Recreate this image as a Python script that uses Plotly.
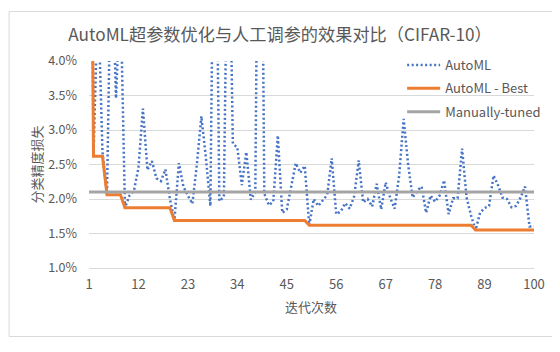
import plotly.graph_objects as go

iterations = list(range(1, 101))

automl = [
    12.0, 2.62, 5.0, 2.68, 2.06, 6.0, 3.46, 5.0, 1.875, 2.05,
    2.12, 2.45, 3.31, 2.42, 2.55, 2.30, 2.26, 2.43, 2.00, 1.69,
    2.52, 2.18, 2.05, 1.93, 2.50, 3.20, 2.60, 1.90, 8.0, 1.97,
    2.03, 7.0, 2.80, 2.75, 2.20, 2.68, 1.99, 2.10, 10.0, 2.08,
    1.91, 1.96, 2.92, 1.80, 1.85, 2.18, 2.52, 2.38, 2.48, 1.62,
    2.00, 1.90, 1.98, 2.06, 2.59, 1.78, 1.82, 1.94, 1.86, 2.04,
    2.56, 1.95, 2.00, 1.89, 2.22, 1.85, 2.24, 2.02, 1.86, 2.34,
    3.16, 2.50, 2.02, 2.12, 2.18, 1.80, 2.05, 1.96, 2.05, 2.27,
    1.78, 2.01, 2.01, 2.73, 2.02, 1.76, 1.55, 1.80, 1.87, 1.90,
    2.34, 2.20, 2.02, 2.00, 1.88, 1.90, 2.02, 2.18, 1.60, 1.60,
]

automl_best = [
    12.0, 2.62, 2.62, 2.62, 2.06, 2.06, 2.06, 2.06, 1.875, 1.875,
    1.875, 1.875, 1.875, 1.875, 1.875, 1.875, 1.875, 1.875, 1.875, 1.69,
    1.69, 1.69, 1.69, 1.69, 1.69, 1.69, 1.69, 1.69, 1.69, 1.69,
    1.69, 1.69, 1.69, 1.69, 1.69, 1.69, 1.69, 1.69, 1.69, 1.69,
    1.69, 1.69, 1.69, 1.69, 1.69, 1.69, 1.69, 1.69, 1.69, 1.62,
    1.62, 1.62, 1.62, 1.62, 1.62, 1.62, 1.62, 1.62, 1.62, 1.62,
    1.62, 1.62, 1.62, 1.62, 1.62, 1.62, 1.62, 1.62, 1.62, 1.62,
    1.62, 1.62, 1.62, 1.62, 1.62, 1.62, 1.62, 1.62, 1.62, 1.62,
    1.62, 1.62, 1.62, 1.62, 1.62, 1.62, 1.55, 1.55, 1.55, 1.55,
    1.55, 1.55, 1.55, 1.55, 1.55, 1.55, 1.55, 1.55, 1.55, 1.55,
]

manual = [
    2.1, 2.1, 2.1, 2.1, 2.1, 2.1, 2.1, 2.1, 2.1, 2.1,
    2.1, 2.1, 2.1, 2.1, 2.1, 2.1, 2.1, 2.1, 2.1, 2.1,
    2.1, 2.1, 2.1, 2.1, 2.1, 2.1, 2.1, 2.1, 2.1, 2.1,
    2.1, 2.1, 2.1, 2.1, 2.1, 2.1, 2.1, 2.1, 2.1, 2.1,
    2.1, 2.1, 2.1, 2.1, 2.1, 2.1, 2.1, 2.1, 2.1, 2.1,
    2.1, 2.1, 2.1, 2.1, 2.1, 2.1, 2.1, 2.1, 2.1, 2.1,
    2.1, 2.1, 2.1, 2.1, 2.1, 2.1, 2.1, 2.1, 2.1, 2.1,
    2.1, 2.1, 2.1, 2.1, 2.1, 2.1, 2.1, 2.1, 2.1, 2.1,
    2.1, 2.1, 2.1, 2.1, 2.1, 2.1, 2.1, 2.1, 2.1, 2.1,
    2.1, 2.1, 2.1, 2.1, 2.1, 2.1, 2.1, 2.1, 2.1, 2.1,
]

x_tickvals = [1, 12, 23, 34, 45, 56, 67, 78, 89, 100]
y_tickvals = [1.0, 1.5, 2.0, 2.5, 3.0, 3.5, 4.0]
y_ticktext = ["1.0%", "1.5%", "2.0%", "2.5%", "3.0%", "3.5%", "4.0%"]

FONT = "Noto Sans CJK SC"
TXT = "#595959"

fig = go.Figure()
fig.add_trace(go.Scatter(x=iterations, y=automl, mode="lines", name="AutoML",
                         legendgroup="a",
                         line=dict(color="#4472C4", width=2.5, dash="2px,2.5px")))
fig.add_trace(go.Scatter(x=iterations, y=automl_best, mode="lines", name="AutoML - Best",
                         legendgroup="b",
                         line=dict(color="#ED7D31", width=3)))
fig.add_trace(go.Scatter(x=iterations, y=manual, mode="lines", name="Manually-tuned",
                         legendgroup="c",
                         line=dict(color="#A5A5A5", width=3)))

# page has an 8px body margin: figure is drawn 8px in from the top-left
OFF = 8
W, H = 552, 344
L, R, T, B = 88.5 - OFF, 560 - 534, 61 - OFF, 352 - 268
pw, ph = W - L - R, H - T - B


def px_x(p):
    return (p - OFF - L) / pw


def px_y(p):
    return (H - B - (p - OFF)) / ph


fig.update_layout(
    width=W, height=H,
    margin=dict(l=L, r=R, t=T, b=B, autoexpand=False),
    paper_bgcolor="white", plot_bgcolor="white",
    font=dict(family=FONT, color=TXT, size=12),
    title=dict(text="AutoML超参数优化与人工调参的效果对比（CIFAR-10）",
               x=(280 - OFF) / W, xanchor="center", xref="container",
               y=1 - (35 - OFF) / H, yanchor="middle", yref="container",
               font=dict(size=17.2, color=TXT, family=FONT)),
    showlegend=True,
    legend=dict(x=px_x(402), y=px_y(50), xanchor="left", yanchor="top",
                bgcolor="rgba(0,0,0,0)", font=dict(size=13, color=TXT, family=FONT),
                itemwidth=33, tracegroupgap=3.5),
    xaxis=dict(range=[1, 100], tickvals=x_tickvals, showgrid=False, zeroline=False,
               showline=True, linecolor="#D9D9D9", linewidth=1, ticks="",
               automargin=False, ticklabelstandoff=4,
               tickfont=dict(size=13, color=TXT)),
    yaxis=dict(range=[1.0, 4.0], tickvals=y_tickvals, ticktext=y_ticktext,
               showgrid=True, gridcolor="#D9D9D9", gridwidth=1, zeroline=False,
               ticks="", automargin=False, ticklabelstandoff=11,
               tickfont=dict(size=12.5, color=TXT)),
    annotations=[
        dict(text="迭代次数", xref="paper", yref="paper", x=px_x(311), y=px_y(306),
             xanchor="center", yanchor="middle", showarrow=False,
             font=dict(size=13, color=TXT, family=FONT)),
        dict(text="分类精度损失", xref="paper", yref="paper", x=px_x(35), y=px_y(165),
             xanchor="center", yanchor="middle", showarrow=False, textangle=-90,
             font=dict(size=13, color=TXT, family=FONT)),
    ],
    shapes=[dict(type="rect", xref="paper", yref="paper",
                 x0=px_x(8.5), x1=px_x(555.5),
                 y0=px_y(336.5), y1=px_y(11.5),
                 line=dict(color="#D9D9D9", width=1), fillcolor="rgba(0,0,0,0)",
                 layer="below")],
)

fig.write_html("out.html")
